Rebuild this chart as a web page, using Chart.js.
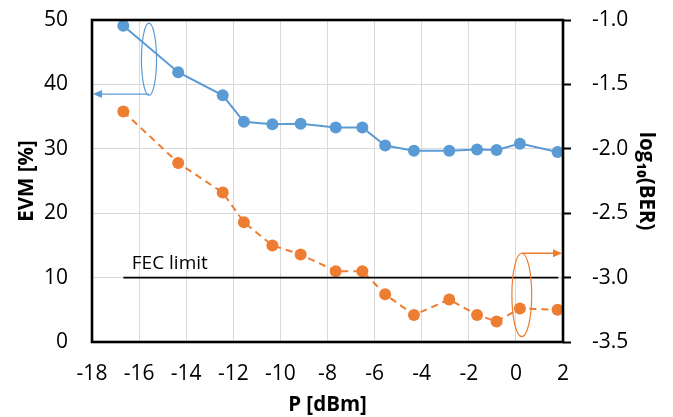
<!DOCTYPE html>
<html>
<head>
<meta charset="utf-8">
<script src="https://cdn.jsdelivr.net/npm/chart.js@4.4.1/dist/chart.umd.min.js"></script>
<style>
  html, body { margin: 0; padding: 0; background: #fff; }
  #wrap { width: 673px; height: 417px; }
</style>
</head>
<body>
<div id="wrap"><canvas id="chart" width="673" height="417"></canvas></div>
<script>
// received power [dBm], shared by both series
var power = [-16.67, -14.34, -12.45, -11.55, -10.34, -9.14, -7.65, -6.52, -5.55, -4.33, -2.83, -1.65, -0.82, 0.17, 1.77];
// EVM [%] (left axis)
var evm = [49.1, 41.9, 38.3, 34.2, 33.8, 33.9, 33.3, 33.3, 30.5, 29.7, 29.7, 29.9, 29.8, 30.8, 29.5];
// log10(BER) (right axis)
var logBer = [-1.71, -2.11, -2.34, -2.57, -2.75, -2.82, -2.95, -2.95, -3.13, -3.29, -3.17, -3.29, -3.34, -3.24, -3.25];
// FEC limit line (left axis units)
var fecX = [-16.67, 1.8];
var fecY = [10, 10];

var BLUE = '#5b9bd5';
var ORANGE = '#ed7d31';
var FONT = '"Open Sans", "Noto Sans", sans-serif';

function pts(xs, ys) {
  return xs.map(function (x, i) { return { x: x, y: ys[i] }; });
}

// fixed axis sizes so the plot box sits where the reference has it
function fixWidth(w) {
  return function (s) { s.width = w; s.paddingTop = 0; s.paddingBottom = 0; };
}

// frame, ellipses with arrows, FEC label
var extras = {
  id: 'extras',
  afterDatasetsDraw: function (chart) {
    var ctx = chart.ctx;
    var a = chart.chartArea;
    var sx = chart.scales.x, sy = chart.scales.y, sy2 = chart.scales.y2;

    function ellipse(scaleY, cx, cy, rx, ry, color) {
      var px = sx.getPixelForValue(cx);
      var py = scaleY.getPixelForValue(cy);
      var prx = Math.abs(sx.getPixelForValue(cx + rx) - px);
      var pry = Math.abs(scaleY.getPixelForValue(cy + ry) - py);
      ctx.beginPath();
      ctx.ellipse(px, py, prx, pry, 0, 0, Math.PI * 2);
      ctx.strokeStyle = color;
      ctx.lineWidth = 1.2;
      ctx.stroke();
    }

    function arrow(x0, x1, y, color) {
      var dir = x1 > x0 ? 1 : -1;
      ctx.beginPath();
      ctx.moveTo(x0, y);
      ctx.lineTo(x1 - dir * 7, y);
      ctx.strokeStyle = color;
      ctx.lineWidth = 1.3;
      ctx.stroke();
      ctx.beginPath();
      ctx.moveTo(x1, y);
      ctx.lineTo(x1 - dir * 9, y - 4);
      ctx.lineTo(x1 - dir * 9, y + 4);
      ctx.closePath();
      ctx.fillStyle = color;
      ctx.fill();
    }

    ctx.save();
    // EVM marker: ellipse pointing to left axis
    ellipse(sy, -15.58, 43.9, 0.32, 5.6, BLUE);
    arrow(sx.getPixelForValue(-15.58), a.left + 1, sy.getPixelForValue(38.5), BLUE);
    // BER marker: ellipse pointing to right axis
    ellipse(sy2, 0.25, -3.135, 0.42, 0.324, ORANGE);
    arrow(sx.getPixelForValue(0.25), a.right - 1, sy2.getPixelForValue(-2.811), ORANGE);

    // FEC label
    ctx.fillStyle = '#000';
    ctx.font = '19px ' + FONT;
    ctx.textBaseline = 'alphabetic';
    ctx.textAlign = 'left';
    ctx.fillText('FEC limit', sx.getPixelForValue(-16.31), sy.getPixelForValue(11.4));

    // plot frame
    ctx.strokeStyle = '#000';
    ctx.lineWidth = 2.6;
    ctx.strokeRect(a.left, a.top, a.right - a.left, a.bottom - a.top);
    ctx.restore();
  }
};

new Chart(document.getElementById('chart'), {
  type: 'scatter',
  data: {
    datasets: [
      {
        label: 'FEC limit',
        data: pts(fecX, fecY),
        showLine: true,
        borderColor: '#000',
        borderWidth: 1.6,
        pointRadius: 0,
        yAxisID: 'y'
      },
      {
        label: 'EVM',
        data: pts(power, evm),
        showLine: true,
        borderColor: BLUE,
        backgroundColor: BLUE,
        borderWidth: 2,
        pointRadius: 6,
        pointBorderWidth: 0,
        yAxisID: 'y'
      },
      {
        label: 'BER',
        data: pts(power, logBer),
        showLine: true,
        borderColor: ORANGE,
        backgroundColor: ORANGE,
        borderWidth: 2,
        borderDash: [7, 5],
        pointRadius: 6,
        pointBorderWidth: 0,
        yAxisID: 'y2'
      }
    ]
  },
  options: {
    responsive: false,
    animation: false,
    layout: { padding: { top: 20, left: 0, right: 0, bottom: 0 } },
    plugins: { legend: { display: false }, tooltip: { enabled: false } },
    scales: {
      x: {
        type: 'linear',
        min: -18,
        max: 2,
        afterFit: function (s) { s.height = 75; s.paddingLeft = 0; s.paddingRight = 0; },
        ticks: { stepSize: 2, color: '#000', font: { family: FONT, size: 21 }, padding: 19 },
        grid: { color: '#d9d9d9', lineWidth: 1, drawTicks: false },
        border: { display: false },
        title: { display: true, text: 'P [dBm]', color: '#000', font: { family: FONT, size: 20.5, weight: 'bold' }, padding: { top: 0, bottom: 0 } }
      },
      y: {
        position: 'left',
        min: 0,
        max: 50,
        afterFit: fixWidth(92),
        ticks: { stepSize: 10, color: '#000', font: { family: FONT, size: 21 }, padding: 24 },
        grid: { color: '#d9d9d9', lineWidth: 1, drawTicks: false },
        border: { display: false },
        title: { display: true, text: 'EVM [%]', color: '#000', font: { family: FONT, size: 20.5, weight: 'bold' }, padding: { top: 15, bottom: 0 } }
      },
      y2: {
        position: 'right',
        min: -3.5,
        max: -1.0,
        afterFit: fixWidth(110),
        ticks: {
          stepSize: 0.5,
          color: '#000',
          font: { family: FONT, size: 21 },
          padding: 21,
          callback: function (v) { return v.toFixed(1); }
        },
        grid: { drawOnChartArea: false, drawTicks: true, tickLength: 8, tickColor: '#000', tickWidth: 2 },
        border: { display: false },
        title: { display: true, text: 'log\u2081\u2080(BER)', color: '#000', font: { family: FONT, size: 20.5, weight: 'bold' }, padding: { top: 15, bottom: 0 } }
      }
    }
  },
  plugins: [extras]
});
</script>
</body>
</html>
